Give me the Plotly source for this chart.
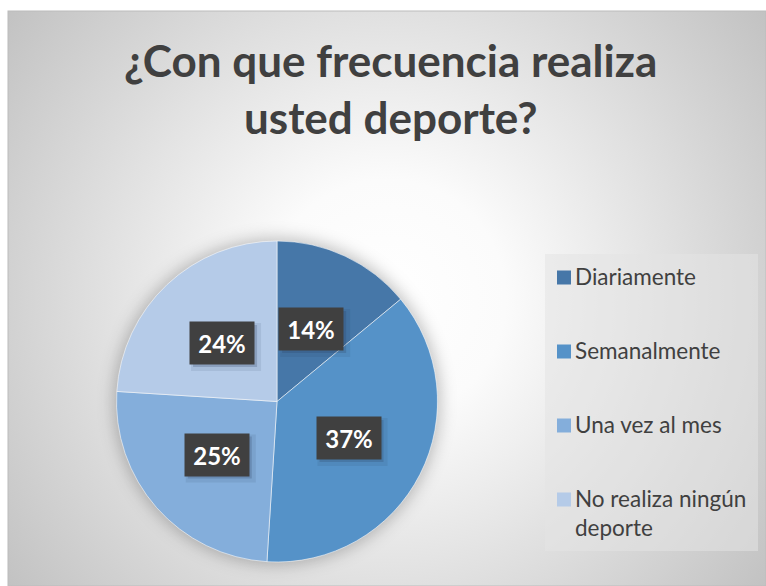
import math
import base64
import textwrap
import plotly.graph_objects as go

# ---- data -------------------------------------------------------------
categories = ["Diariamente", "Semanalmente", "Una vez al mes", "No realiza ningún deporte"]
percentages = [14, 37, 25, 24]
slice_colors = ["#4677A8", "#5592C8", "#84AEDB", "#B5CBE8"]
title_lines = ["¿Con que frecuencia realiza", "usted deporte?"]

# ---- geometry (pixels) ------------------------------------------------
W, H = 766, 586
CX, CY, R = 277.0, 401.5, 160.5          # pie centre and radius
FRAME_X0, FRAME_Y0 = 8, 11               # top-left of the chart frame
LEG_X0, LEG_Y0, LEG_X1, LEG_Y1 = 545, 254, 758, 551
LEG_FIRST_Y, LEG_STEP = 277.5, 74.0
TEXT_COLOR = "#404040"
FONT = "Lato"


def fx(x):
    return x / W


def fy(y):
    return 1 - y / H


# ---- background: radial gradient frame + soft pie shadow ------------------
gcx, gcy = (FRAME_X0 + W) / 2, (FRAME_Y0 + H) / 2
grad_r = math.hypot(gcx - FRAME_X0, gcy - FRAME_Y0)
svg = f'''<svg xmlns="http://www.w3.org/2000/svg" width="{W}" height="{H}" viewBox="0 0 {W} {H}">
<defs>
<radialGradient id="g" cx="{gcx}" cy="{gcy}" r="{grad_r}" gradientUnits="userSpaceOnUse">
<stop offset="0" stop-color="#ffffff"/>
<stop offset="0.25" stop-color="#fbfbfb"/>
<stop offset="1" stop-color="#c2c2c2"/>
</radialGradient>
<filter id="b" x="-50%" y="-50%" width="200%" height="200%"><feGaussianBlur stdDeviation="8"/></filter>
</defs>
<rect x="{FRAME_X0}" y="{FRAME_Y0}" width="{W - FRAME_X0}" height="{H - FRAME_Y0}" fill="url(#g)" stroke="#bcbcbc" stroke-width="1"/>
<circle cx="{CX}" cy="{CY}" r="{R + 3}" fill="#000" fill-opacity="0.24" filter="url(#b)"/>
</svg>'''
bg_src = "data:image/svg+xml;base64," + base64.b64encode(svg.encode("utf-8")).decode("ascii")

# ---- pie ------------------------------------------------------------
fig = go.Figure(
    go.Pie(
        labels=categories,
        values=percentages,
        sort=False,
        direction="clockwise",
        rotation=0,
        marker=dict(colors=slice_colors, line=dict(color="rgba(255,255,255,0.55)", width=1)),
        textinfo="none",
        hoverinfo="label+percent",
        showlegend=False,
        domain=dict(x=[fx(CX - R), fx(CX + R)], y=[fy(CY + R), fy(CY - R)]),
    )
)

shapes = []
annotations = []

# ---- data labels: dark boxes at half radius along each slice's mid angle
total = sum(percentages)
cum = 0.0
BOX_W, BOX_H = 64, 42
for v in percentages:
    mid = (cum + v / 2) / total
    cum += v
    ang = 2 * math.pi * mid
    lx = CX + 0.5 * R * math.sin(ang)
    ly = CY - 0.5 * R * math.cos(ang)
    # drop shadow
    for off, alpha, grow in ((4, 0.10, 3), (3, 0.22, 0)):
        shapes.append(dict(
            type="rect", xref="paper", yref="paper", layer="above",
            x0=fx(lx - BOX_W / 2 + off - grow), x1=fx(lx + BOX_W / 2 + off + grow),
            y0=fy(ly + BOX_H / 2 + off + grow), y1=fy(ly - BOX_H / 2 + off - grow),
            fillcolor=f"rgba(40,60,90,{alpha})", line=dict(width=0),
        ))
    annotations.append(dict(
        x=fx(lx), y=fy(ly), xref="paper", yref="paper",
        xanchor="center", yanchor="middle", showarrow=False,
        text=f"<b>{v}%</b>",
        font=dict(family=FONT, size=24, color="#ffffff"),
        bgcolor="#404040", width=BOX_W - 2, height=BOX_H - 2, borderpad=1,
    ))

# ---- title --------------------------------------------------------------
for i, line in enumerate(title_lines):
    annotations.append(dict(
        x=fx((FRAME_X0 + W) / 2 + 3), y=fy(60 + 57 * i), xref="paper", yref="paper",
        xanchor="center", yanchor="middle", showarrow=False,
        text=f"<b>{line}</b>",
        font=dict(family=FONT, size=44, color=TEXT_COLOR),
    ))

# ---- legend -------------------------------------------------------------
shapes.append(dict(
    type="rect", xref="paper", yref="paper", layer="below",
    x0=fx(LEG_X0), x1=fx(LEG_X1), y0=fy(LEG_Y1), y1=fy(LEG_Y0),
    fillcolor="rgba(228,228,228,0.55)", line=dict(width=0),
))
LEG_FONT = 22.5
for i, (name, col) in enumerate(zip(categories, slice_colors)):
    yc = LEG_FIRST_Y + LEG_STEP * i
    shapes.append(dict(
        type="rect", xref="paper", yref="paper", layer="above",
        x0=fx(557), x1=fx(571), y0=fy(yc + 7), y1=fy(yc - 7),
        fillcolor=col, line=dict(width=0),
    ))
    wrapped = "<br>".join(textwrap.wrap(name, 17))
    line_h = LEG_FONT * 1.3
    annotations.append(dict(
        x=fx(574), y=fy(yc - line_h / 2 - 1), xref="paper", yref="paper",
        xanchor="left", yanchor="top", align="left", showarrow=False,
        text=wrapped, borderpad=0,
        font=dict(family=FONT, size=LEG_FONT, color=TEXT_COLOR),
    ))

fig.update_layout(
    width=W, height=H,
    margin=dict(l=0, r=0, t=0, b=0),
    paper_bgcolor="#ffffff",
    plot_bgcolor="rgba(0,0,0,0)",
    images=[dict(
        source=bg_src, xref="paper", yref="paper", x=0, y=1,
        sizex=1, sizey=1, xanchor="left", yanchor="top",
        sizing="stretch", layer="below",
    )],
    shapes=shapes,
    annotations=annotations,
)

fig.write_html("out.html")
